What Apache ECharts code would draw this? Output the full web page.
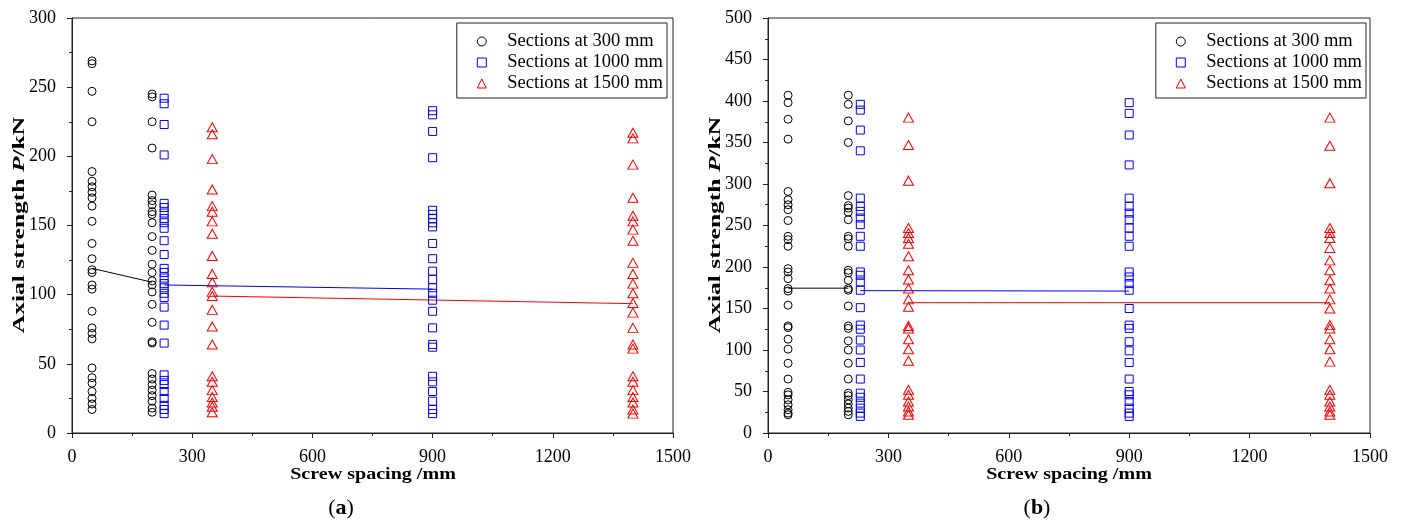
<!DOCTYPE html>
<html>
<head>
<meta charset="utf-8">
<script src="https://cdn.jsdelivr.net/npm/echarts@6/dist/echarts.min.js"></script>
<style>html,body{margin:0;padding:0;background:#fff;}#c{width:1406px;height:523px;}</style>
</head>
<body>
<div id="c"></div>
<script>
// ---------- Shared labels ----------
const xTicks = [0, 300, 600, 900, 1200, 1500];
const legendNames = ['Sections at 300 mm', 'Sections at 1000 mm', 'Sections at 1500 mm'];
const xTitle = 'Screw spacing /mm';
const yTitleParts = ['Axial strength ', 'P', '/kN'];
const panelLabels = ['a', 'b'];

// ---------- Data (panel a) ----------
const A_circ50  = [269, 267, 247, 225, 189, 182, 178, 174, 170, 164, 153, 137, 126, 118, 116, 107, 104, 88, 76, 72, 68, 47, 40, 36, 30, 25, 21, 17];
const A_circ200 = [245, 243, 225, 206, 172, 168, 165, 160, 158, 152, 142, 132, 122, 116, 110, 107, 102, 93, 80, 66, 65, 43, 39, 35, 31, 27, 23, 18, 15];
const A_sq230   = [242, 238, 223, 201, 166, 163, 159, 155, 152, 148, 139, 129, 119, 116, 112, 108, 105, 101, 98, 91, 78, 65, 42, 38, 35, 30, 25, 20, 17, 14];
const A_sq900   = [233, 230, 218, 199, 161, 158, 155, 152, 149, 137, 126, 117, 111, 105, 101, 96, 88, 76, 64, 62, 41, 37, 30, 23, 17, 14];
const A_tri350  = [221, 216, 198, 176, 164, 160, 153, 144, 128, 115, 109, 102, 99, 89, 77, 64, 41, 37, 31, 26, 22, 19, 15];
const A_tri1400 = [217, 213, 194, 170, 157, 153, 147, 139, 123, 115, 108, 101, 94, 87, 76, 64, 61, 41, 37, 31, 26, 22, 17, 14];
const A_lineBlack = [[50, 119], [200, 109]];
const A_lineBlue  = [[230, 107], [900, 104]];
const A_lineRed   = [[350, 99], [1400, 93.5]];

// ---------- Data (panel b) ----------
const B_circ50  = [407, 398, 378, 354, 291, 281, 275, 269, 256, 237, 233, 225, 198, 194, 186, 174, 171, 154, 129, 127, 113, 101, 84, 65, 49, 46, 40, 34, 28, 24, 22];
const B_circ200 = [407, 396, 376, 350, 286, 274, 271, 266, 257, 237, 234, 225, 196, 193, 184, 174, 172, 153, 129, 126, 111, 100, 84, 65, 48, 45, 40, 35, 30, 26, 22];
const B_sq230   = [396, 389, 365, 340, 283, 273, 267, 259, 251, 237, 225, 194, 190, 182, 172, 151, 130, 125, 112, 100, 85, 65, 48, 43, 36, 30, 24, 20];
const B_sq900   = [398, 385, 359, 323, 283, 273, 265, 257, 247, 237, 225, 194, 188, 180, 172, 150, 130, 126, 110, 99, 85, 65, 50, 46, 38, 30, 24, 20];
const B_tri350  = [380, 347, 304, 247, 241, 235, 228, 213, 196, 185, 174, 161, 152, 129, 126, 113, 101, 87, 52, 46, 38, 32, 26, 22];
const B_tri1400 = [380, 346, 301, 247, 241, 235, 223, 208, 196, 184, 174, 161, 150, 130, 126, 113, 101, 86, 52, 46, 38, 32, 26, 22];
const B_lineBlack = [[50, 174.5], [200, 174.5]];
const B_lineBlue  = [[230, 171.5], [900, 171]];
const B_lineRed   = [[350, 157], [1400, 157]];

// ---------- Build ----------
const SERIF = '"Liberation Serif", "Times New Roman", serif';
const AX = '#222';
const col = (x, arr) => arr.map(v => [x, v]);

function xAxisCfg(gi) {
  return {
    gridIndex: gi, type: 'value', min: xTicks[0], max: xTicks[xTicks.length - 1], interval: xTicks[1] - xTicks[0],
    axisLine: { show: true, onZero: false, lineStyle: { color: AX, width: 1 } },
    axisTick: { show: true, length: 5, lineStyle: { color: AX } },
    minorTick: { show: true, splitNumber: 2, length: 3, lineStyle: { color: AX } },
    axisLabel: { fontFamily: SERIF, fontSize: 18, color: '#000', margin: 15, formatter: v => String(v) },
    splitLine: { show: false }
  };
}
function yAxisCfg(gi, max) {
  return {
    gridIndex: gi, type: 'value', min: 0, max: max, interval: 50,
    axisLine: { show: true, onZero: false, lineStyle: { color: AX, width: 1 } },
    axisTick: { show: true, length: 5, lineStyle: { color: AX } },
    minorTick: { show: true, splitNumber: 2, length: 3, lineStyle: { color: AX } },
    axisLabel: { fontFamily: SERIF, fontSize: 18, color: '#000', margin: 16, formatter: v => String(v) },
    splitLine: { show: false }
  };
}
const styles = [
  { symbol: 'circle', symbolSize: 8, color: '#000000' },
  { symbol: 'rect', symbolSize: 8, color: '#0000ff' },
  { symbol: 'triangle', symbolSize: [10, 9], color: '#ff0000' }
];
function scatter(gi, si, data) {
  const s = styles[si];
  return {
    type: 'scatter', name: legendNames[si], xAxisIndex: gi, yAxisIndex: gi,
    symbol: s.symbol, symbolSize: s.symbolSize, data: data, z: 3,
    itemStyle: { color: 'rgba(0,0,0,0)', borderColor: s.color, borderWidth: 1, opacity: 1 },
    emphasis: { disabled: true }, silent: true
  };
}
function line(gi, data, color) {
  return {
    type: 'line', xAxisIndex: gi, yAxisIndex: gi, data: data, symbol: 'none', z: 2,
    lineStyle: { color: color, width: 1 }, silent: true, animation: false
  };
}
function legendCfg(right) {
  return {
    orient: 'vertical', right: right, top: 23,
    data: legendNames,
    itemWidth: 9, itemHeight: 9, itemGap: 0,
    itemStyle: { borderWidth: 1 },
    padding: [8, 4, 4, 20],
    borderColor: '#222', borderWidth: 1, backgroundColor: '#fff',
    selectedMode: false,
    textStyle: { fontFamily: SERIF, fontSize: 18.5, color: '#000', lineHeight: 21, padding: [0, 0, 0, 16] }
  };
}
function xTitleG(cx) {
  return { type: 'text', x: cx, y: 475, scaleX: 1.18, scaleY: 1,
    style: { text: xTitle, fontFamily: SERIF, fontWeight: 'bold', fontSize: 17, fill: '#000', align: 'center', verticalAlign: 'middle' } };
}
function yTitleG(cx) {
  return { type: 'text', x: cx, y: 225, rotation: Math.PI / 2, scaleX: 1.5, scaleY: 1,
    style: { text: '{b|' + yTitleParts[0] + '}{i|' + yTitleParts[1] + '}{b|' + yTitleParts[2] + '}',
      align: 'center', verticalAlign: 'middle',
      rich: {
        b: { fontFamily: SERIF, fontWeight: 'bold', fontSize: 17, fill: '#000' },
        i: { fontFamily: SERIF, fontWeight: 'bold', fontStyle: 'italic', fontSize: 17, fill: '#000' }
      } } };
}
function panelG(cx, letter) {
  return { type: 'text', x: cx, y: 508,
    style: { text: '({b|' + letter + '})', fontFamily: SERIF, fontSize: 22, fill: '#000', align: 'center', verticalAlign: 'middle',
      rich: { b: { fontFamily: SERIF, fontSize: 22, fontWeight: 'bold', fill: '#000' } } } };
}

const option = {
  animation: false,
  backgroundColor: '#fff',
  grid: [
    { left: 72, top: 18, width: 601, height: 415, show: true, borderColor: AX, borderWidth: 1, backgroundColor: 'transparent' },
    { left: 768, top: 18, width: 602, height: 415, show: true, borderColor: AX, borderWidth: 1, backgroundColor: 'transparent' }
  ],
  xAxis: [xAxisCfg(0), xAxisCfg(1)],
  yAxis: [yAxisCfg(0, 300), yAxisCfg(1, 500)],
  legend: [legendCfg(739), legendCfg(40)],
  series: [
    scatter(0, 0, col(50, A_circ50).concat(col(200, A_circ200))),
    scatter(0, 1, col(230, A_sq230).concat(col(900, A_sq900))),
    scatter(0, 2, col(350, A_tri350).concat(col(1400, A_tri1400))),
    line(0, A_lineBlack, '#000'), line(0, A_lineBlue, '#0000ff'), line(0, A_lineRed, '#ff0000'),
    scatter(1, 0, col(50, B_circ50).concat(col(200, B_circ200))),
    scatter(1, 1, col(230, B_sq230).concat(col(900, B_sq900))),
    scatter(1, 2, col(350, B_tri350).concat(col(1400, B_tri1400))),
    line(1, B_lineBlack, '#000'), line(1, B_lineBlue, '#0000ff'), line(1, B_lineRed, '#ff0000')
  ],
  graphic: [
    xTitleG(373), xTitleG(1069),
    yTitleG(20), yTitleG(716),
    panelG(341, panelLabels[0]), panelG(1037, panelLabels[1])
  ]
};
const chart = echarts.init(document.getElementById('c'), null, { renderer: 'canvas' });
chart.setOption(option);
</script>
</body>
</html>
